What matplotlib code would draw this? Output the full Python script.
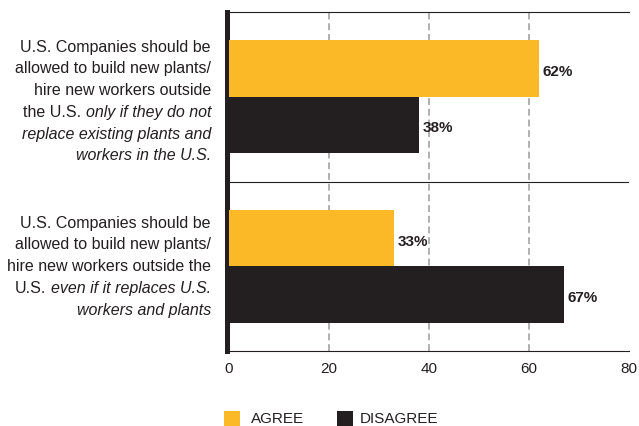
import matplotlib
matplotlib.use('Agg')
import matplotlib.pyplot as plt
from matplotlib.patches import Rectangle

plt.rcParams['font.family'] = ['Liberation Sans', 'DejaVu Sans']

# ---- data ----
label_top = [("U.S. Companies should be", ""),
             ("allowed to build new plants/", ""),
             ("hire new workers outside", ""),
             ("the U.S.", "only if they do not"),
             ("", "replace existing plants and"),
             ("", "workers in the U.S.")]
label_bottom = [("U.S. Companies should be", ""),
                ("allowed to build new plants/", ""),
                ("hire new workers outside the", ""),
                ("U.S.", "even if it replaces U.S."),
                ("", "workers and plants")]
categories = [label_top, label_bottom]
agree = [62, 33]
disagree = [38, 67]
series_names = ["AGREE", "DISAGREE"]
xticks = [0, 20, 40, 60, 80]

YELLOW = '#FBB827'
DARK = '#231F20'
GRID = '#9B9B9B'

W, H = 639, 426
fig = plt.figure(figsize=(W / 100, H / 100), dpi=100)
ax = fig.add_axes([229 / W, 1 - 351 / H, 400 / W, 339 / H])

ypos = [1, 0]
bh = 0.333
ax.barh([y + bh / 2 for y in ypos], agree, height=bh, color=YELLOW, linewidth=0, zorder=3)
ax.barh([y - bh / 2 for y in ypos], disagree, height=bh, color=DARK, linewidth=0, zorder=3)

ax.set_xlim(xticks[0], xticks[-1])
ax.set_ylim(-0.5, 1.5)

# grid lines (dashed) at inner ticks
for t in xticks[1:-1]:
    ax.axvline(t, color=GRID, lw=1.1, dashes=(4.5, 2.5), zorder=1)
# group separator
ax.axhline(0.5, color=DARK, lw=0.8, zorder=2)

# spines
for s in ['right']:
    ax.spines[s].set_visible(False)
for s in ['top', 'bottom']:
    ax.spines[s].set_color(DARK)
    ax.spines[s].set_linewidth(0.8)
ax.spines['left'].set_color(DARK)
ax.spines['left'].set_linewidth(3.6)
ax.spines['left'].set_position(('outward', 1.8))
ax.spines['left'].set_capstyle('projecting')

ax.set_yticks([])
ax.set_xticks(xticks)
ax.set_xticklabels([str(t) for t in xticks])
ax.tick_params(axis='x', length=0, pad=8, labelsize=11, labelcolor=DARK)

# value labels
for vals, off in ((agree, bh / 2), (disagree, -bh / 2)):
    for y, v in zip(ypos, vals):
        ax.annotate(f"{v}%", xy=(v, y + off), xytext=(3.5, -3.5), textcoords='offset pixels',
                    ha='left', va='center', fontsize=11, fontweight='bold', color=DARK)

# category labels (mixed normal / italic)
ytr = ax.get_yaxis_transform()
first_offsets = [49.5, 43.0]
line_step = 21.7
for lines, y, d0 in zip(categories, ypos, first_offsets):
    for i, (normal, italic) in enumerate(lines):
        dy = d0 - line_step * i
        if italic:
            t_it = ax.annotate(italic, xy=(0, y), xycoords=ytr, xytext=(-18, dy),
                               textcoords='offset pixels', ha='right', va='center',
                               fontsize=11.5, style='italic', color=DARK)
            if normal:
                ax.annotate(normal, xy=(0, 0.5), xycoords=t_it, xytext=(-4.5, 0),
                            textcoords='offset pixels', ha='right', va='center',
                            fontsize=11.5, color=DARK)
        else:
            ax.annotate(normal, xy=(0, y), xycoords=ytr, xytext=(-18, dy),
                        textcoords='offset pixels', ha='right', va='center',
                        fontsize=11.5, color=DARK)

# legend (manual)
leg_items = [(224, 251, YELLOW), (337, 360, DARK)]
for (sx, tx, col), name in zip(leg_items, series_names):
    fig.add_artist(Rectangle((sx / W, (H - 427) / H), 16 / W, 16 / H,
                             transform=fig.transFigure, color=col, linewidth=0))
    fig.text(tx / W, 1 - 419 / H, name, ha='left', va='center', fontsize=11, color=DARK)

fig.savefig('out.png', dpi=100)
